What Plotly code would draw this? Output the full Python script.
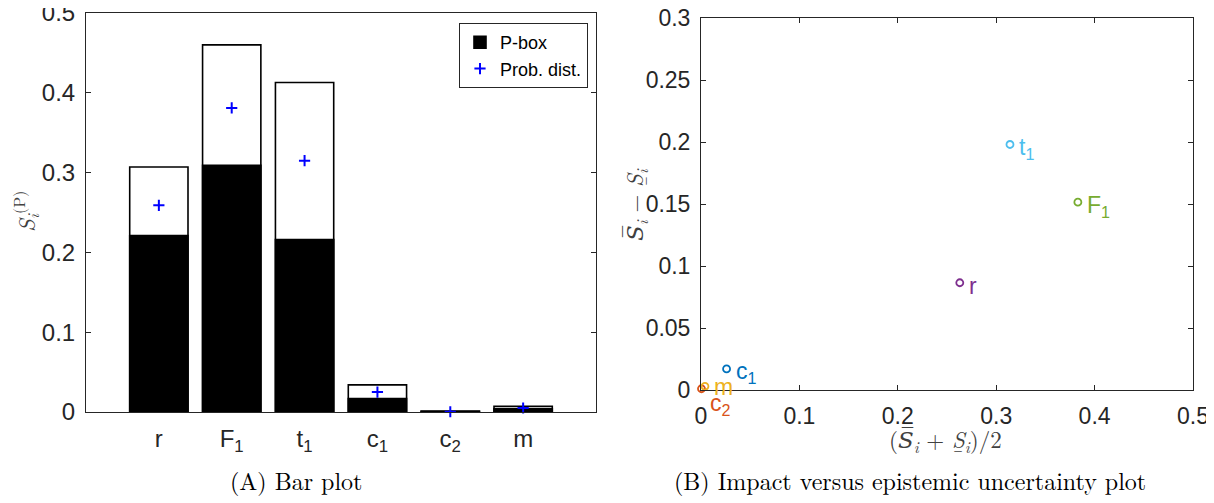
import plotly.graph_objects as go

# ---- data ----
categories = ["r", "F<sub>1</sub>", "t<sub>1</sub>", "c<sub>1</sub>", "c<sub>2</sub>", "m"]
pbox_upper = [0.307, 0.460, 0.413, 0.034, 0.0012, 0.007]
pbox_lower = [0.221, 0.309, 0.216, 0.017, 0.0006, 0.004]
prob_dist = [0.259, 0.381, 0.315, 0.025, 0.0003, 0.005]

scatter_names = ["r", "F<sub>1</sub>", "t<sub>1</sub>", "c<sub>1</sub>", "c<sub>2</sub>", "m"]
impact = [0.263, 0.383, 0.314, 0.026, 0.0005, 0.004]
epistemic = [0.0865, 0.1515, 0.198, 0.017, 0.001, 0.003]
point_colors = ["#7E2F8E", "#77AC30", "#4DBEEE", "#0072BD", "#D95319", "#EDB120"]
label_yshift = [-3, -4, -4, -4, -16, -1]

# page offset of the plot div (default body margin) and figure size
OFF = 8
FW, FH = 1214 - OFF, 503 - OFF


def px(v):
    return (v - OFF) / FW


def py(v):
    return 1 - (v - OFF) / FH


AX = "#262626"
SANS = "Liberation Sans, Arial, sans-serif"
TICKFONT = dict(family=SANS, size=24, color=AX)
TICKFONT2 = dict(family=SANS, size=23, color=AX)
SERIF = "Latin Modern Roman, DejaVu Serif, serif"

fig = go.Figure()

# upper bounds: white bars with black outline
fig.add_trace(go.Bar(
    x=categories, y=pbox_upper, width=0.8,
    marker=dict(color="white", line=dict(color="black", width=1.6)),
    showlegend=False, xaxis="x", yaxis="y", hoverinfo="skip"))
# lower bounds: black bars
fig.add_trace(go.Bar(
    x=categories, y=pbox_lower, width=0.8, name="P-box",
    marker=dict(color="black", line=dict(color="black", width=1.6)),
    xaxis="x", yaxis="y"))
# probabilistic values
fig.add_trace(go.Scatter(
    x=categories, y=prob_dist, mode="markers", name="Prob. dist.",
    marker=dict(symbol="cross-thin", size=8, color="#0000FF",
                line=dict(color="#0000FF", width=2)),
    cliponaxis=False, xaxis="x", yaxis="y"))

# right: impact vs epistemic uncertainty
fig.add_trace(go.Scatter(
    x=impact, y=epistemic, mode="markers", showlegend=False,
    marker=dict(symbol="circle-open", size=7, color=point_colors,
                line=dict(color=point_colors, width=1.8)),
    cliponaxis=False, xaxis="x2", yaxis="y2"))

annotations = []
for name, xv, yv, col, ys in zip(scatter_names, impact, epistemic, point_colors, label_yshift):
    annotations.append(dict(
        x=xv, y=yv, xref="x2", yref="y2", text=name, showarrow=False,
        xanchor="left", yanchor="middle", xshift=7, yshift=ys,
        font=dict(family=SANS, size=23, color=col)))

# axis labels
annotations.append(dict(
    x=px(25), y=py(212), xref="paper", yref="paper", textangle=-90,
    xanchor="center", yanchor="middle",
    text="<i>S</i><sub><i>i</i></sub><sup>(P)</sup>", showarrow=False,
    font=dict(family=SERIF, size=23, color="#404040")))
annotations.append(dict(
    x=px(635), y=py(205), xref="paper", yref="paper", textangle=-90,
    xanchor="center", yanchor="middle",
    text="<i>S\u0305</i><sub><i>i</i></sub> \u2212 <i>S\u0332</i><sub><i>i</i></sub>",
    showarrow=False, font=dict(family=SERIF, size=23, color="#404040")))
annotations.append(dict(
    x=px(945), y=py(440), xref="paper", yref="paper",
    xanchor="center", yanchor="middle",
    text="(<i>S\u0305</i><sub><i>i</i></sub> + <i>S\u0332</i><sub><i>i</i></sub>)/2",
    showarrow=False, font=dict(family=SERIF, size=23, color="#404040")))

# captions
annotations.append(dict(
    x=px(296), y=py(480), xref="paper", yref="paper", text="(A) Bar plot",
    xanchor="center", yanchor="middle",
    showarrow=False, font=dict(family=SERIF, size=24, color="black")))
annotations.append(dict(
    x=px(910), y=py(480), xref="paper", yref="paper",
    xanchor="center", yanchor="middle",
    text="(B) Impact versus epistemic uncertainty plot",
    showarrow=False, font=dict(family=SERIF, size=24, color="black")))

common_axis = dict(showline=True, linecolor=AX, linewidth=1, mirror="allticks",
                   showgrid=False, zeroline=False, automargin=False,
                   ticklabeloverflow="allow",
                   ticks="inside", ticklen=5, tickcolor=AX)

fig.update_layout(
    width=FW, height=FH, margin=dict(l=0, r=0, t=0, b=0, autoexpand=False),
    paper_bgcolor="white", plot_bgcolor="white",
    barmode="overlay", bargap=0.2,
    xaxis=dict(domain=[px(86), px(596)], anchor="y", type="category",
               range=[-1, 6], showline=True, linecolor=AX, linewidth=1,
               mirror=True, showgrid=False, zeroline=False, ticks="",
               automargin=False, ticklabeloverflow="allow",
               tickfont=TICKFONT, ticklabelstandoff=5),
    yaxis=dict(domain=[py(412), py(13)], anchor="x",
               range=[0, 0.5], dtick=0.1, tickformat="~g",
               ticklabelstandoff=5, tickfont=TICKFONT, **common_axis),
    xaxis2=dict(domain=[px(701), px(1193)], anchor="y2",
                range=[0, 0.5], dtick=0.1, tickformat="~g",
                ticklabelstandoff=5, tickfont=TICKFONT2, **common_axis),
    yaxis2=dict(domain=[py(390), py(18)], anchor="x2",
                range=[0, 0.3], dtick=0.05, tickformat="~g",
                ticklabelstandoff=5, tickfont=TICKFONT2, **common_axis),
    legend=dict(x=px(588), y=py(23), xanchor="right", yanchor="top",
                bgcolor="white", bordercolor=AX, borderwidth=1,
                font=dict(family=SANS, size=18, color="black"),
                tracegroupgap=0, itemwidth=30),
    annotations=annotations,
    showlegend=True,
)

fig.write_html("out.html")
